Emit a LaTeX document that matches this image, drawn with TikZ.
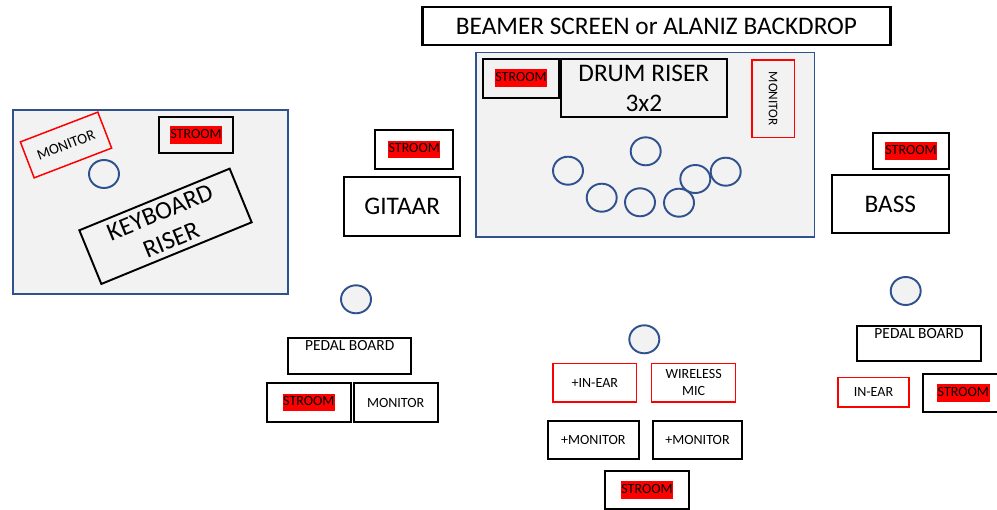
\documentclass[tikz,border=0pt]{standalone}
\usepackage{fontspec}
\setmainfont{Carlito}
\usetikzlibrary{shapes.geometric}
\definecolor{riserblue}{RGB}{47,82,143}
\definecolor{risergray}{RGB}{242,242,242}
\newcommand{\stroomtag}{{\setlength{\fboxsep}{0.3pt}\colorbox{red}{\strut STROOM}}}

\begin{document}
\begin{tikzpicture}[x=0.02cm,y=-0.02cm,
  box/.style={draw=black,line width=1.1pt,inner sep=0pt,align=center},
  redbox/.style={draw=red,line width=0.85pt,inner sep=0pt,align=center},
  riser/.style={draw=riserblue,fill=risergray,line width=1pt,inner sep=0pt},
  spot/.style={ellipse,draw=riserblue,fill=risergray,line width=1.1pt,minimum width=0.6cm,minimum height=0.56cm,inner sep=0pt},
  small/.style={font=\fontsize{8}{9.6}\selectfont},
  pedal/.style={font=\fontsize{8.8}{10.5}\selectfont},
  big/.style={font=\fontsize{14.4}{17}\selectfont}]
  \useasboundingbox (0,0) rectangle (997,510);

  \node[box,line width=1.7pt,big,minimum width=9.38cm,minimum height=0.76cm] (screen) at (656.5,26) {BEAMER SCREEN or ALANIZ BACKDROP};

  % keyboard
  \node[riser,minimum width=5.5cm,minimum height=3.68cm] (kbarea) at (150.5,202) {};
  \node[redbox,font=\fontsize{8.5}{10}\selectfont,rotate=21,minimum width=1.66cm,minimum height=0.77cm] (kbmonitor) at (66,145) {MONITOR};
  \node[box,small,minimum width=1.49cm,minimum height=0.71cm] (kbstroom) at (196,135) {\stroomtag};
  \node[spot] (kbspot) at (104,174) {};
  \node[box,big,rotate=22.3,minimum width=3.25cm,minimum height=1.16cm] (kbriser) at (165.5,226.3) {KEYBOARD\\RISER};

  % guitar
  \node[box,small,minimum width=1.57cm,minimum height=0.78cm] (gstroom) at (414.2,149.5) {\stroomtag};
  \node[box,big,minimum width=2.31cm,minimum height=1.17cm] (gitaar) at (402.2,206.7) {GITAAR};
  \node[spot] (gspot) at (356,299.3) {};
  \node[box,minimum width=2.47cm,minimum height=0.73cm,label={[pedal,anchor=north,inner sep=2pt]north:PEDAL BOARD}] (gpedal) at (349.7,356) {};
  \node[box,small,minimum width=1.67cm,minimum height=0.77cm] (gstroom2) at (308.8,402.5) {\stroomtag};
  \node[box,small,minimum width=1.68cm,minimum height=0.77cm] (gmonitor) at (395.7,402.5) {MONITOR};

  % drums
  \node[riser,minimum width=6.77cm,minimum height=3.69cm] (drumarea) at (645.2,144.7) {};
  \node[box,small,minimum width=1.51cm,minimum height=0.77cm] (dstroom) at (521,78.3) {\stroomtag};
  \node[box,big,minimum width=3.31cm,minimum height=1.17cm] (drumriser) at (643.8,88.2) {DRUM RISER\\3x2};
  \node[redbox,font=\fontsize{7.5}{9}\selectfont,rotate=-90,minimum width=1.55cm,minimum height=0.85cm] (dmonitor) at (773.2,98.7) {MONITOR};
  \foreach \cx/\cy [count=\i] in {645.7/151.3,568/170.7,601.7/197.7,640/202.3,679/202.7,695.3/179,725.7/171.7}
    \node[spot] (drum\i) at (\cx,\cy) {};

  % vocals
  \node[spot] (vspot) at (644.3,339.3) {};
  \node[redbox,small,minimum width=1.67cm,minimum height=0.77cm] (vinear) at (594.8,382.8) {+IN-EAR};
  \node[redbox,small,minimum width=1.68cm,minimum height=0.77cm] (vmic) at (693.7,382.8) {WIRELESS\\MIC};
  \node[box,small,minimum width=1.83cm,minimum height=0.77cm] (vmonitor) at (593.3,440.2) {+MONITOR};
  \node[box,small,minimum width=1.78cm,minimum height=0.77cm] (vmonitor2) at (697.5,440.2) {+MONITOR};
  \node[box,small,minimum width=1.68cm,minimum height=0.76cm] (vstroom) at (647,490) {\stroomtag};

  % bass
  \node[box,small,minimum width=1.51cm,minimum height=0.73cm] (bstroom) at (911,150.8) {\stroomtag};
  \node[box,big,minimum width=2.33cm,minimum height=1.17cm] (bass) at (890.3,204.2) {BASS};
  \node[spot] (bspot) at (905.7,291) {};
  \node[box,minimum width=2.47cm,minimum height=0.71cm,label={[pedal,anchor=north,inner sep=2pt]north:PEDAL BOARD}] (bpedal) at (919,343.7) {};
  \node[redbox,small,minimum width=1.42cm,minimum height=0.59cm] (binear) at (873.5,392.2) {IN-EAR};
  \node[box,small,minimum width=1.6cm,minimum height=0.75cm] (bstroom2) at (963.3,392.8) {\stroomtag};
\end{tikzpicture}
\end{document}
